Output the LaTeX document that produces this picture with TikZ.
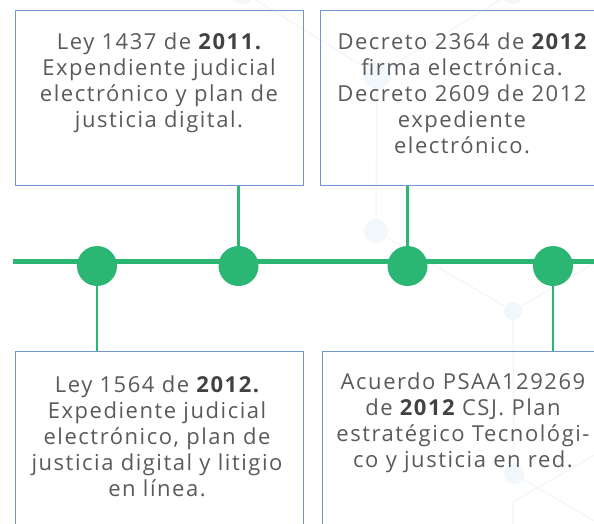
\documentclass[tikz,border=0pt]{standalone}
\usepackage{fontspec}
\setmainfont{Open Sans}[LetterSpace=7]
\definecolor{tlgreen}{RGB}{44,182,116}
\definecolor{boxblue}{RGB}{112,150,208}
\definecolor{txtgray}{RGB}{90,90,90}
\definecolor{boldgray}{RGB}{66,66,66}
\definecolor{faint}{RGB}{241,247,251}
\newcommand\hlyear[1]{{\bfseries\color{boldgray}#1}}
\begin{document}
\begin{tikzpicture}[x=1pt,y=-1pt,
  card/.style={draw=boxblue,line width=1.3pt,minimum width=288pt,minimum height=175pt,inner sep=0pt,anchor=north west},
  cardtext/.style={text=txtgray,font=\fontsize{22}{26}\selectfont,align=center,inner sep=0pt,anchor=north},
  dot/.style={circle,fill=tlgreen,minimum size=40pt,inner sep=0pt},
  tline/.style={draw=tlgreen,line width=5pt},
  stem/.style={draw=tlgreen,line width=2.6pt},
  bgline/.style={draw=faint,line width=1.5pt},
  bgdot/.style={circle,fill=faint,inner sep=0pt}]
\useasboundingbox (0,0) rectangle (594,523);
\clip (0,0) rectangle (594,523);
% faint background network
\node[bgdot,minimum size=24pt] (nA) at (243,-8) {};
\node[bgdot,minimum size=24pt] (nB) at (513,-8) {};
\node[bgdot,minimum size=28pt] (nC) at (377,75) {};
\node[bgdot,minimum size=24pt] (nD) at (376,231) {};
\node[bgdot,minimum size=18pt] (nE) at (513,311) {};
\node[bgdot,minimum size=20pt] (nF) at (514,474) {};
\coordinate (nG) at (600,260);
\coordinate (nH) at (600,524);
\coordinate (nI) at (600,452);
\coordinate (nJ) at (513,502);
\coordinate (nK) at (513,530);
\draw[bgline] (nA) -- (nC) -- (nB);
\draw[bgline] (nC) -- (nD) -- (nE) -- (nG);
\draw[bgline] (nE) -- (nF) -- (nH);
\draw[bgline] (nI) -- (nJ) -- (nK);
% boxes
\node[card] (b1) at (15,10) {};
\node[card,minimum width=290pt] (b2) at (320,10) {};
\node[card,minimum height=200pt] (b3) at (15,351) {};
\node[card,minimum width=290pt,minimum height=200pt] (b4) at (322,351) {};
% texts
\node[cardtext] (t1) at (159,33) {Ley 1437 de \hlyear{2011.}\\Expendiente judicial\\electrónico y plan de\\justicia digital.};
\node[cardtext] (t2) at (462,33) {Decreto 2364 de \hlyear{2012}\\firma electrónica.\\Decreto 2609 de 2012\\expediente\\electrónico.};
\node[cardtext] (t3) at (157,376) {Ley 1564 de \hlyear{2012.}\\Expediente judicial\\electrónico, plan de\\justicia digital y litigio\\en línea.};
\node[cardtext] (t4) at (463,373) {Acuerdo PSAA129269\\de \hlyear{2012} CSJ. Plan\\estratégico Tecnológi-\\co y justicia en red.};
% timeline
\coordinate (L0) at (13,261);
\coordinate (L1) at (600,261);
\draw[tline] (L0) -- (L1);
\node[dot] (d1) at (97,266) {};
\node[dot] (d2) at (238.5,266) {};
\node[dot] (d3) at (407.5,266) {};
\node[dot] (d4) at (553,266) {};
\draw[stem] (d1) -- (d1 |- b3.north);
\draw[stem] (d2) -- (d2 |- b1.south);
\draw[stem] (d3) -- (d3 |- b2.south);
\draw[stem] (d4) -- (d4 |- b4.north);
\end{tikzpicture}
\end{document}
